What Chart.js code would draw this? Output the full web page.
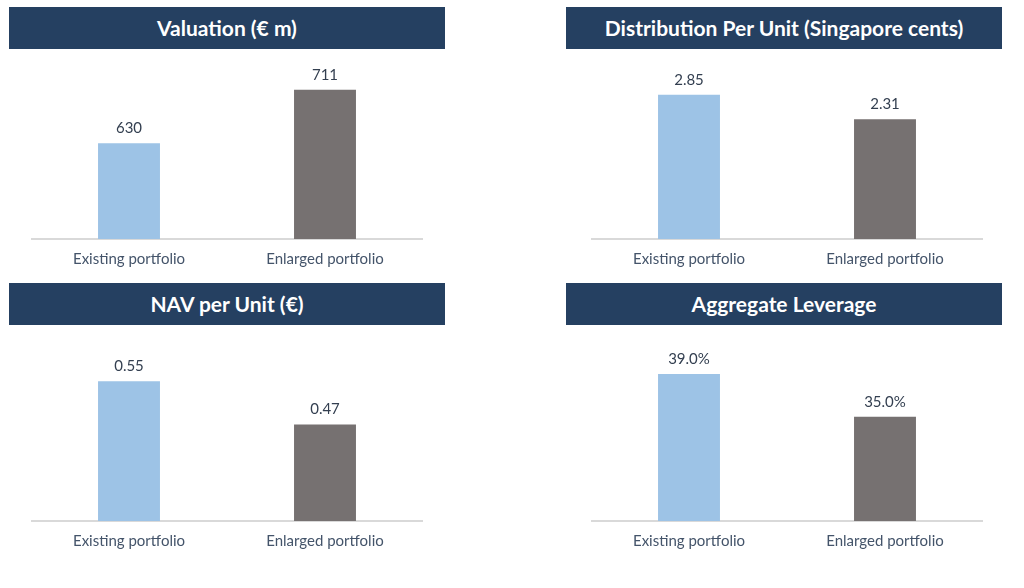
<!DOCTYPE html>
<html>
<head>
<meta charset="utf-8">
<script src="https://cdn.jsdelivr.net/npm/chart.js@4.4.1/dist/chart.umd.min.js"></script>
<style>
  body { margin: 0; background: #fff; width: 1024px; height: 588px; position: relative; overflow: hidden; font-family: Lato, sans-serif; }
  .title { position: absolute; width: 436px; height: 42px; background: #254061; color: #fff;
           font-weight: bold; font-size: 21px; line-height: 42px; text-align: center; }
  .box { position: absolute; width: 392px; height: 233px; }
</style>
</head>
<body>
<div class="title" style="left:9px;top:7px">Valuation (€ m)</div>
<div class="title" style="left:566px;top:7px">Distribution Per Unit (Singapore cents)</div>
<div class="title" style="left:9px;top:283px">NAV per Unit (€)</div>
<div class="title" style="left:566px;top:283px">Aggregate Leverage</div>

<div class="box" style="left:31px;top:55px"><canvas id="c1"></canvas></div>
<div class="box" style="left:591px;top:55px"><canvas id="c2"></canvas></div>
<div class="box" style="left:31px;top:337px"><canvas id="c3"></canvas></div>
<div class="box" style="left:591px;top:337px"><canvas id="c4"></canvas></div>

<script>
// data
const categories = ['Existing portfolio', 'Enlarged portfolio'];
const valuation = [630, 711];
const dpu = [2.85, 2.31];
const navPerUnit = [0.55, 0.47];
const leverage = [39.0, 35.0];

// value axis ranges (the original axes do not start at zero)
const axisMin = [485, -0.32, 0.291, 25.26];
const axisMax = [756, 3.613, 0.623, 42.0];

const barColors = ['#9dc3e6', '#767171'];

// draws the number above each bar
const valueLabels = {
  id: 'valueLabels',
  afterDatasetsDraw(chart, args, opts) {
    const ctx = chart.ctx;
    const meta = chart.getDatasetMeta(0);
    const values = chart.data.datasets[0].data;
    ctx.save();
    ctx.font = '15px Lato';
    ctx.fillStyle = '#333f50';
    ctx.textAlign = 'center';
    ctx.textBaseline = 'alphabetic';
    meta.data.forEach((bar, i) => {
      ctx.fillText(opts.format(values[i]), bar.x, bar.y - 10);
    });
    ctx.restore();
  }
};

function makeChart(id, values, idx, format) {
  return new Chart(document.getElementById(id), {
    type: 'bar',
    data: {
      labels: categories,
      datasets: [{
        data: values,
        base: axisMin[idx],
        backgroundColor: barColors,
        barPercentage: 0.316,
        categoryPercentage: 1
      }]
    },
    options: {
      responsive: true,
      maintainAspectRatio: false,
      animation: false,
      layout: { padding: { top: 5, bottom: 9, left: 0, right: 0 } },
      plugins: {
        legend: { display: false },
        tooltip: { enabled: false },
        valueLabels: { format: format }
      },
      scales: {
        x: {
          grid: { display: false, drawTicks: false },
          border: { display: true, color: '#d9d9d9', width: 2 },
          ticks: { color: '#44546a', font: { family: 'Lato', size: 15 }, padding: 11 }
        },
        y: {
          display: false,
          min: axisMin[idx],
          max: axisMax[idx]
        }
      }
    },
    plugins: [valueLabels]
  });
}

makeChart('c1', valuation, 0, v => v.toFixed(0));
makeChart('c2', dpu, 1, v => v.toFixed(2));
makeChart('c3', navPerUnit, 2, v => v.toFixed(2));
makeChart('c4', leverage, 3, v => v.toFixed(1) + '%');
</script>
</body>
</html>
